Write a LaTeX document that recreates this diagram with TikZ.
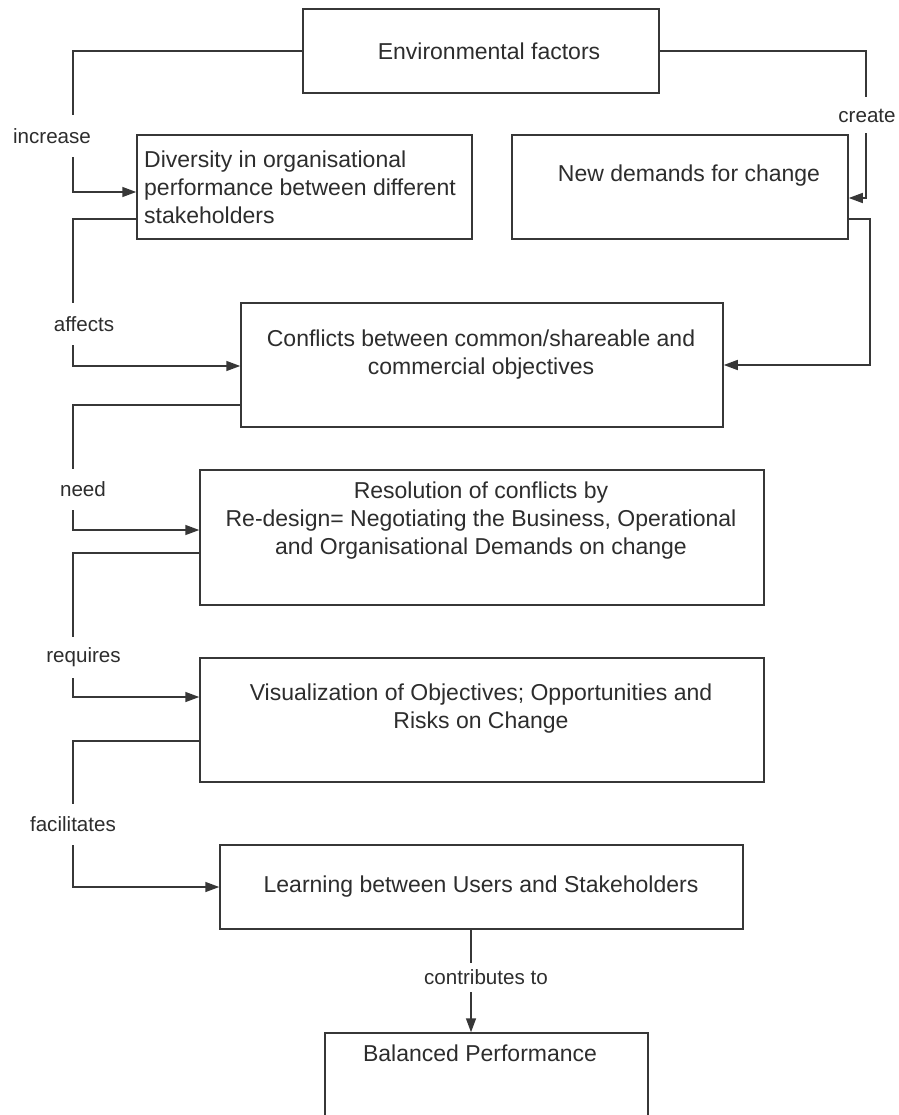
\documentclass[tikz,border=0pt]{standalone}
\usepackage{fontspec}
\setmainfont{Liberation Sans}
\usetikzlibrary{arrows.meta}
\definecolor{linecol}{RGB}{55,55,55}
\definecolor{txtcol}{RGB}{45,45,45}
\tikzset{
  box/.style={draw=linecol, line width=1.5pt, rectangle, inner sep=0pt, fill=none},
  boxtext/.style={text=txtcol, inner sep=0pt, font=\fontsize{23}{28}\selectfont},
  link/.style={draw=linecol, line width=1.5pt, -{Triangle[length=14pt,width=10pt]}},
  lab/.style={fill=white, text=txtcol, inner xsep=0pt, inner ysep=0pt, font=\fontsize{20.6}{24}\selectfont}
}
\begin{document}
\begin{tikzpicture}[x=1pt, y=-1pt]
\clip (0,0) rectangle (898,1115);
\fill[white] (0,0) rectangle (898,1115);

% boxes
\node[box, minimum width=356pt, minimum height=84pt]  (env)   at (481,51) {};
\node[box, minimum width=335pt, minimum height=104pt] (div)   at (304.5,187) {};
\node[box, minimum width=336pt, minimum height=104pt] (new)   at (680,187) {};
\node[box, minimum width=482pt, minimum height=124pt] (conf)  at (482,365) {};
\node[box, minimum width=564pt, minimum height=135pt] (res)   at (482,537.5) {};
\node[box, minimum width=564pt, minimum height=124pt] (vis)   at (482,720) {};
\node[box, minimum width=523pt, minimum height=84pt]  (learn) at (481.5,887) {};
\node[box, minimum width=323pt, minimum height=127pt] (bal)   at (486.5,1096.5) {};

% box texts
\node[boxtext] (envt) at (489,51) {Environmental factors};
\node[boxtext, anchor=west, align=left] (divt) at (144,187)
  {Diversity in organisational\\performance between different\\stakeholders};
\node[boxtext] (newt) at (689,176) {New demands for change};
\node[boxtext, align=center] (conft) at (481,354.5)
  {Conflicts between common/shareable and\\commercial objectives};
\node[boxtext, align=center] (rest) at (481,521)
  {Resolution of conflicts by\\Re-design= Negotiating the Business, Operational\\and Organisational Demands on change};
\node[boxtext, align=center] (vist) at (481,709)
  {Visualization of Objectives; Opportunities and\\Risks on Change};
\node[boxtext] (learnt) at (481,887) {Learning between Users and Stakeholders};
\node[boxtext] (balt) at (480,1053) {Balanced Performance};

% connectors
\draw[link] (env.west) -| (73,192) -- (div.west |- 0,192);
\draw[link] (div.west |- 0,219) -| (73,366) -- (conf.west |- 0,366);
\draw[link] (env.east) -| (866,198) -- (new.east |- 0,198);
\draw[link] (new.east |- 0,219) -| (870,365) -- (conf.east |- 0,365);
\draw[link] (conf.west |- 0,405) -| (73,530) -- (res.west |- 0,530);
\draw[link] (res.west |- 0,553) -| (73,697) -- (vis.west |- 0,697);
\draw[link] (vis.west |- 0,741) -| (73,887) -- (learn.west |- 0,887);
\draw[link] (learn.south -| 471,0) -- (bal.north -| 471,0);

% connector labels
\node[lab, minimum height=42pt] (l1) at (52,136)   {increase};
\node[lab, minimum height=42pt] (l2) at (84,324)   {affects};
\node[lab, minimum height=41pt] (l3) at (83,489.5) {need};
\node[lab, minimum height=41pt] (l4) at (83.5,657.5) {requires};
\node[lab, minimum height=41pt] (l5) at (73,824.5) {facilitates};
\node[lab, minimum height=36pt] (l6) at (867,115.5) {create};
\node[lab, minimum height=29pt] (l7) at (486,977)  {contributes to};
\end{tikzpicture}
\end{document}
